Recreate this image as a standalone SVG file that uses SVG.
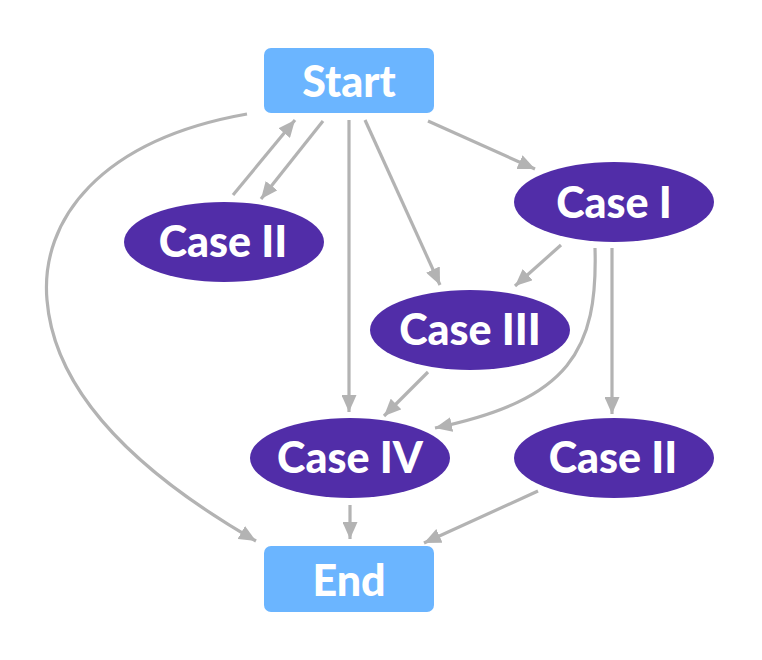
<svg xmlns="http://www.w3.org/2000/svg" width="762" height="660" viewBox="0 0 762 660">
<style>
.box{fill:#6bb5ff}
.ell{fill:#512da8}
.t{font-family:Lato,"Liberation Sans",sans-serif;font-weight:900;font-size:43px;fill:#fff;text-anchor:middle}
.e{fill:none;stroke:#b3b3b3;stroke-width:3.2}
</style>
<defs>
<marker id="ah" markerUnits="userSpaceOnUse" markerWidth="18" markerHeight="15" refX="17" refY="7.5" orient="auto">
<path d="M0,0 L17,7.5 L0,15 z" fill="#b3b3b3"/>
</marker>
</defs>
<rect width="762" height="660" fill="#fff"/>
<g id="edges">
<path class="e" d="M428,121 L535,169" marker-end="url(#ah)"/>
<path class="e" d="M233,195 L295,120" marker-end="url(#ah)"/>
<path class="e" d="M323,121 L261,199" marker-end="url(#ah)"/>
<path class="e" d="M349,120 L349,412" marker-end="url(#ah)"/>
<path class="e" d="M365,120 L440,285" marker-end="url(#ah)"/>
<path class="e" d="M247,114 C100,140 40,220 47,300 C55,400 150,480 256,541" marker-end="url(#ah)"/>
<path class="e" d="M561,245 L515,286" marker-end="url(#ah)"/>
<path class="e" d="M595,248 C598,350 570,400 435,428" marker-end="url(#ah)"/>
<path class="e" d="M612,248 L612,414" marker-end="url(#ah)"/>
<path class="e" d="M428,372 L384,416" marker-end="url(#ah)"/>
<path class="e" d="M350,505 L350,539" marker-end="url(#ah)"/>
<path class="e" d="M538,491 L424,543" marker-end="url(#ah)"/>
</g>
<g id="start"><rect class="box" x="264" y="48" width="170" height="65" rx="7"/><text class="t" x="349" y="97">Start</text></g>
<g id="case1"><ellipse class="ell" cx="614" cy="202" rx="100" ry="40"/><text class="t" x="614" y="218">Case I</text></g>
<g id="case2a"><ellipse class="ell" cx="224" cy="242" rx="100" ry="40"/><text class="t" x="223" y="257">Case II</text></g>
<g id="case3"><ellipse class="ell" cx="470" cy="330" rx="100" ry="40"/><text class="t" x="470" y="345">Case III</text></g>
<g id="case4"><ellipse class="ell" cx="350" cy="458" rx="100" ry="40"/><text class="t" x="350" y="473">Case IV</text></g>
<g id="case2b"><ellipse class="ell" cx="614" cy="458" rx="100" ry="40"/><text class="t" x="613" y="473">Case II</text></g>
<g id="end"><rect class="box" x="264" y="546" width="170" height="66" rx="7"/><text class="t" x="349" y="596">End</text></g>
</svg>
